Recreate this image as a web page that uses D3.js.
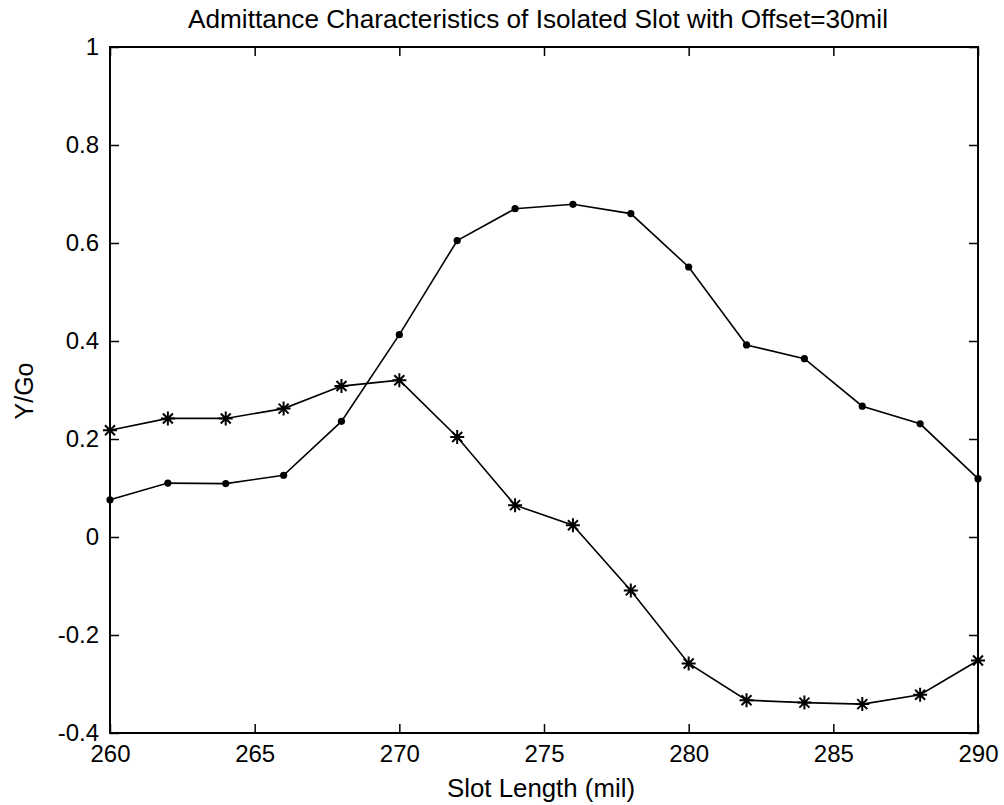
<!DOCTYPE html>
<html>
<head>
<meta charset="utf-8">
<script src="https://cdn.jsdelivr.net/npm/d3@7"></script>
<style>
  body { margin: 0; background: #fff; }
  svg { display: block; }
  text { font-family: "Liberation Sans", Arial, sans-serif; fill: #000; }
</style>
</head>
<body>
<div id="chart"></div>
<script>
// slot length (mil)
const slotLength = [260, 262, 264, 266, 268, 270, 272, 274, 276, 278, 280, 282, 284, 286, 288, 290];
// dot series
const seriesDot = [0.076, 0.110, 0.109, 0.126, 0.236, 0.413, 0.605, 0.670, 0.679, 0.660, 0.551, 0.392, 0.364, 0.267, 0.231, 0.119];
// star series
const seriesStar = [0.218, 0.242, 0.242, 0.262, 0.308, 0.320, 0.204, 0.065, 0.024, -0.109, -0.258, -0.333, -0.338, -0.341, -0.322, -0.252];
const xTicks = [260, 265, 270, 275, 280, 285, 290];
const yTicks = [-0.4, -0.2, 0, 0.2, 0.4, 0.6, 0.8, 1];

const width = 1004, height = 805;
const margin = {top: 47, right: 26, bottom: 72, left: 110};
const iw = width - margin.left - margin.right;
const ih = height - margin.top - margin.bottom;

const svg = d3.select("#chart").append("svg")
    .attr("width", width)
    .attr("height", height);

const x = d3.scaleLinear().domain([260, 290]).range([margin.left, margin.left + iw]);
const y = d3.scaleLinear().domain([-0.4, 1]).range([margin.top + ih, margin.top]);

const tickLen = 9;

// axes with inward ticks (MATLAB box style)
svg.append("g")
    .attr("transform", `translate(0,${margin.top + ih})`)
    .call(d3.axisBottom(x).tickValues(xTicks).tickSizeInner(-tickLen).tickSizeOuter(0).tickPadding(12))
    .call(g => g.select(".domain").remove());
svg.append("g")
    .attr("transform", `translate(0,${margin.top})`)
    .call(d3.axisTop(x).tickValues(xTicks).tickSizeInner(-tickLen).tickSizeOuter(0).tickFormat(""))
    .call(g => g.select(".domain").remove());
svg.append("g")
    .attr("transform", `translate(${margin.left},0)`)
    .call(d3.axisLeft(y).tickValues(yTicks).tickSizeInner(-tickLen).tickSizeOuter(0).tickPadding(11)
        .tickFormat(d => String(+d.toFixed(1))))
    .call(g => g.select(".domain").remove());
svg.append("g")
    .attr("transform", `translate(${margin.left + iw},0)`)
    .call(d3.axisRight(y).tickValues(yTicks).tickSizeInner(-tickLen).tickSizeOuter(0).tickFormat(""))
    .call(g => g.select(".domain").remove());

svg.selectAll(".tick line").attr("stroke", "#000").attr("stroke-width", 1.5);
svg.selectAll(".tick text").style("font-size", "24px").attr("fill", "#000");

svg.append("rect")
    .attr("x", margin.left).attr("y", margin.top)
    .attr("width", iw).attr("height", ih)
    .attr("fill", "none").attr("stroke", "#000").attr("stroke-width", 2);

const line = d3.line()
    .x((d, i) => x(slotLength[i]))
    .y(d => y(d));

// dot series
svg.append("path")
    .datum(seriesDot)
    .attr("d", line)
    .attr("fill", "none").attr("stroke", "#000").attr("stroke-width", 1.6);
svg.selectAll(".dot")
    .data(seriesDot)
    .enter().append("circle")
    .attr("class", "dot")
    .attr("cx", (d, i) => x(slotLength[i]))
    .attr("cy", d => y(d))
    .attr("r", 3.6)
    .attr("fill", "#000");

// star series
svg.append("path")
    .datum(seriesStar)
    .attr("d", line)
    .attr("fill", "none").attr("stroke", "#000").attr("stroke-width", 1.6);
const s = 7, sd = 5;
svg.selectAll(".star")
    .data(seriesStar)
    .enter().append("path")
    .attr("class", "star")
    .attr("transform", (d, i) => `translate(${x(slotLength[i])},${y(d)})`)
    .attr("d", `M${-s},0H${s}M0,${-s}V${s}M${-sd},${-sd}L${sd},${sd}M${-sd},${sd}L${sd},${-sd}`)
    .attr("stroke", "#000").attr("stroke-width", 2);

// title and labels
svg.append("text")
    .attr("x", 538).attr("y", 28)
    .attr("text-anchor", "middle")
    .attr("textLength", 700).attr("lengthAdjust", "spacingAndGlyphs")
    .style("font-size", "25px")
    .text("Admittance Characteristics of Isolated Slot with Offset=30mil");

svg.append("text")
    .attr("x", 541).attr("y", 797)
    .attr("text-anchor", "middle")
    .attr("textLength", 188).attr("lengthAdjust", "spacingAndGlyphs")
    .style("font-size", "25px")
    .text("Slot Length (mil)");

svg.append("text")
    .attr("transform", `translate(33,391) rotate(-90)`)
    .attr("text-anchor", "middle")
    .style("font-size", "25px")
    .text("Y/Go");
</script>
</body>
</html>
